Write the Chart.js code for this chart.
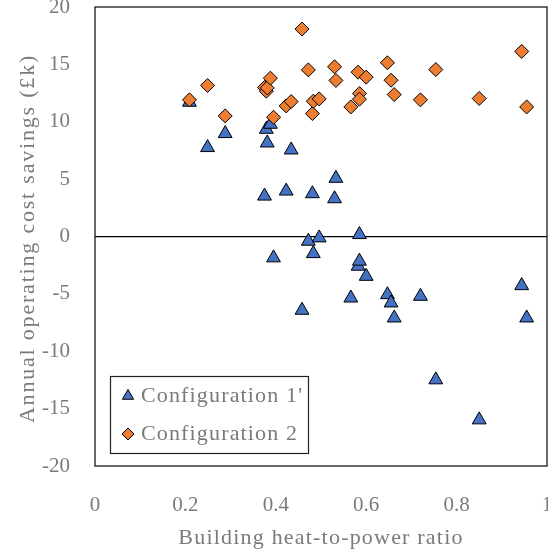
<!DOCTYPE html>
<html>
<head>
<meta charset="utf-8">
<script src="https://cdn.jsdelivr.net/npm/chart.js@4/dist/chart.umd.min.js"></script>
<style>
  html, body { margin: 0; padding: 0; background: #fff; }
  #wrap { width: 548px; height: 556px; }
</style>
</head>
<body>
<div id="wrap"><canvas id="c" width="548" height="556"></canvas></div>
<script>
// Building heat-to-power ratio for each building studied
const heatToPower = [
  0.209, 0.249, 0.288, 0.375, 0.379, 0.381, 0.388, 0.395, 0.423, 0.434,
  0.458, 0.472, 0.481, 0.483, 0.496, 0.530, 0.533, 0.566, 0.582, 0.585,
  0.585, 0.600, 0.647, 0.655, 0.662, 0.720, 0.754, 0.850, 0.944, 0.955
];
// Annual operating cost savings (£k), Configuration 1'
const config1Savings = [
  11.7, 7.75, 8.97, 3.52, 9.34, 8.15, 9.78, -1.86, 3.96, 7.54,
  -6.43, -0.41, 3.73, -1.49, -0.12, 3.29, 5.07, -5.36, -2.59, 0.17,
  -2.15, -3.47, -5.07, -5.79, -7.10, -5.21, -12.49, -15.98, -4.28, -7.10
];
// Annual operating cost savings (£k), Configuration 2
const config2Savings = [
  11.91, 13.16, 10.51, 12.99, 12.66, 12.95, 13.80, 10.39, 11.38, 11.76,
  18.08, 14.52, 10.71, 11.79, 11.99, 14.79, 13.60, 11.29, 14.32, 12.46,
  11.97, 13.89, 15.14, 13.62, 12.37, 11.91, 14.55, 12.03, 16.13, 11.29
];
const seriesNames = ["Configuration 1'", "Configuration 2"];
const xTitle = 'Building heat-to-power ratio';
const yTitle = 'Annual operating cost savings (£k)';
const xTickValues = [0, 0.2, 0.4, 0.6, 0.8, 1];
const yTickValues = [-20, -15, -10, -5, 0, 5, 10, 15, 20];

const FONT = "'Liberation Serif', 'Times New Roman', serif";
const TEXT = '#7a7a7a';
const BLUE = '#4472C4';
const ORANGE = '#ED7D31';

const toPoints = ys => heatToPower.map((x, i) => ({ x, y: ys[i] }));

function labelText(ctx, text, x, y, align, spacing) {
  ctx.font = '22px ' + FONT;
  ctx.letterSpacing = spacing + 'px';
  ctx.fillStyle = TEXT;
  ctx.textAlign = align;
  ctx.textBaseline = 'middle';
  ctx.fillText(text, x, y);
}

// Frame around the plotting area, plus the axis titles
const framePlugin = {
  id: 'frame',
  afterDraw(chart) {
    const { ctx, chartArea: a } = chart;
    ctx.save();
    ctx.strokeStyle = '#1a1a1a';
    ctx.lineWidth = 1.3;
    ctx.strokeRect(a.left, a.top, a.right - a.left, a.bottom - a.top);
    labelText(ctx, xTitle, (a.left + a.right) / 2, 538, 'center', 1.2);
    ctx.translate(28, (a.top + a.bottom) / 2 + 2);
    ctx.rotate(-Math.PI / 2);
    labelText(ctx, yTitle, 0, 0, 'center', 1.8);
    ctx.restore();
  }
};

// Boxed legend in the lower-left corner of the plot
const boxLegendPlugin = {
  id: 'boxLegend',
  afterDraw(chart) {
    const { ctx, chartArea: a } = chart;
    const x0 = a.left + 15, y0 = a.bottom - 90, w = 198, h = 77;
    ctx.save();
    ctx.fillStyle = '#fff';
    ctx.fillRect(x0, y0, w, h);
    ctx.strokeStyle = '#222';
    ctx.lineWidth = 1.2;
    ctx.strokeRect(x0 + 0.5, y0 + 0.5, w, h);
    const rows = [
      { style: 'triangle', color: BLUE, radius: 6.5, dy: 20 },
      { style: 'rectRot', color: ORANGE, radius: 6, dy: 58 }
    ];
    rows.forEach((r, i) => {
      ctx.fillStyle = r.color;
      ctx.strokeStyle = '#000';
      ctx.lineWidth = 1;
      Chart.helpers.drawPoint(ctx, { pointStyle: r.style, radius: r.radius, borderWidth: 1, rotation: 0 }, x0 + 18, y0 + r.dy);
      labelText(ctx, seriesNames[i], x0 + 31, y0 + r.dy, 'left', 1.15);
    });
    ctx.restore();
  }
};

const noPad = s => { s.paddingTop = 0; s.paddingBottom = 0; s.paddingLeft = 0; s.paddingRight = 0; };

new Chart(document.getElementById('c'), {
  type: 'scatter',
  data: {
    datasets: [
      {
        label: seriesNames[0],
        data: toPoints(config1Savings),
        pointStyle: 'triangle',
        radius: 8,
        backgroundColor: BLUE,
        borderColor: '#000',
        borderWidth: 1,
        order: 1
      },
      {
        label: seriesNames[1],
        data: toPoints(config2Savings),
        pointStyle: 'rectRot',
        radius: 7,
        backgroundColor: ORANGE,
        borderColor: '#000',
        borderWidth: 1,
        order: 0
      }
    ]
  },
  options: {
    responsive: false,
    animation: false,
    devicePixelRatio: 1,
    layout: { autoPadding: false, padding: { top: 7, right: 1, left: 0, bottom: 0 } },
    plugins: { legend: { display: false }, tooltip: { enabled: false } },
    scales: {
      x: {
        type: 'linear',
        min: 0, max: 1,
        afterFit: s => { s.height = 90; noPad(s); },
        afterBuildTicks: s => { s.ticks = xTickValues.map(v => ({ value: v })); },
        ticks: {
          color: TEXT,
          font: { family: FONT, size: 21 },
          padding: 19,
          maxRotation: 0,
          callback: v => (v === 0 || v === 1) ? String(v) : v.toFixed(1)
        },
        grid: { display: false },
        border: { display: false }
      },
      y: {
        type: 'linear',
        min: -20, max: 20,
        afterFit: s => { s.width = 95; noPad(s); },
        afterBuildTicks: s => { s.ticks = yTickValues.map(v => ({ value: v })); },
        ticks: {
          color: TEXT,
          font: { family: FONT, size: 21 },
          padding: 25,
          callback: v => String(v)
        },
        grid: {
          drawTicks: false,
          color: c => (c.tick && c.tick.value === 0) ? '#000' : 'rgba(0,0,0,0)',
          lineWidth: 1.3
        },
        border: { display: false }
      }
    }
  },
  plugins: [framePlugin, boxLegendPlugin]
});
</script>
</body>
</html>
